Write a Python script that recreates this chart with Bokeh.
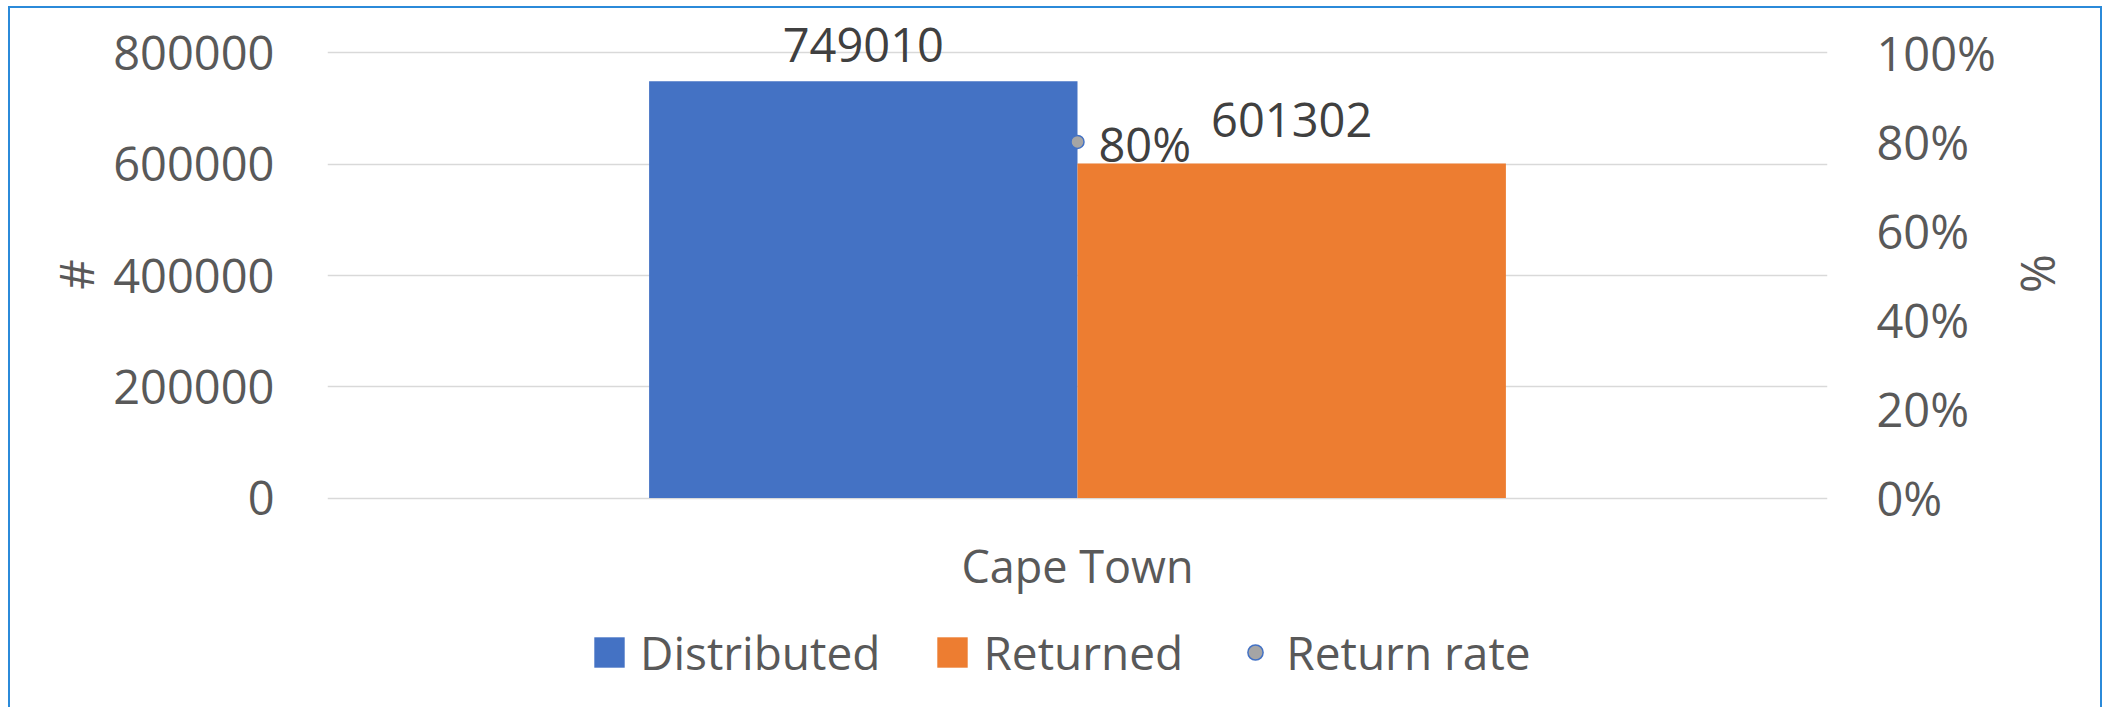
import math
from bokeh.plotting import figure
from bokeh.models import (ColumnDataSource, Range1d, LinearAxis, FixedTicker,
                          Legend, LegendItem, NumeralTickFormatter, FactorRange)
from bokeh.transform import dodge
from bokeh.core.properties import value
from bokeh.embed import file_html
from bokeh.resources import INLINE

# ---- data ----
cities = ["Cape Town"]
distributed = [749010]
returned = [601302]
return_rate = [0.80]
return_rate_labels = ["80%"]
left_ticks = [0, 200000, 400000, 600000, 800000]
right_ticks = [0, 0.2, 0.4, 0.6, 0.8, 1.0]
left_title = "#"
right_title = "%"

# ---- style ----
FONT = "Open Sans"
BLUE = "#4472C4"
ORANGE = "#ED7D31"
GREY_TXT = "#595959"
DARK_TXT = "#404040"
GRID = "#D9D9D9"
EDGE = "#2B8AD9"
NBSP = "\u00a0"

W, H = 2103, 707
FRAME_LEFT, FRAME_RIGHT = 327, 1829
ZERO_PX, TOP_PX = 497.6, 52.4          # pixel rows of the 0 and the top gridline
span = ZERO_PX - TOP_PX
y_start = -(H - ZERO_PX) / span * left_ticks[-1]
y_end = ZERO_PX / span * left_ticks[-1]
pct_start = -(H - ZERO_PX) / span * right_ticks[-1]
pct_end = ZERO_PX / span * right_ticks[-1]

src = ColumnDataSource(dict(city=cities, distributed=distributed, returned=returned,
                            rate=return_rate, rate_label=return_rate_labels,
                            d_label=[str(v) for v in distributed],
                            r_label=[str(v) for v in returned],
                            base=[0] * len(cities)))

p = figure(width=W, height=H, x_range=FactorRange(factors=cities),
           y_range=Range1d(y_start, y_end), output_backend="svg", toolbar_location=None,
           min_border_left=FRAME_LEFT, min_border_right=W - FRAME_RIGHT,
           min_border_top=0, min_border_bottom=0)
p.x_range.range_padding = 0
p.extra_y_ranges = {"pct": Range1d(pct_start, pct_end)}
p.outline_line_color = None
p.background_fill_color = None
p.border_fill_color = None
p.styles = {"box-shadow": ("inset 8px 6px 0 0 #ffffff, inset -1px 0 0 0 #ffffff, "
                           f"inset 10px 8px 0 0 {EDGE}, inset -3px 0 0 0 {EDGE}"),
            "background-color": "#ffffff"}

bw = 0.2856
r_d = p.vbar(x=dodge("city", -bw / 2, range=p.x_range), top="distributed", width=bw,
             source=src, fill_color=BLUE, line_color=None)
r_r = p.vbar(x=dodge("city", bw / 2, range=p.x_range), top="returned", width=bw,
             source=src, fill_color=ORANGE, line_color=None)
r_rate = p.scatter(x="city", y="rate", y_range_name="pct", source=src, size=13,
                   fill_color="#A5A5A5", line_color=BLUE, line_width=1.5)

# data labels
p.text(x=dodge("city", -bw / 2, range=p.x_range), y="distributed", text="d_label",
       source=src, text_align="center", text_baseline="middle", y_offset=-36,
       text_font=value(FONT), text_font_size="47px", text_color=DARK_TXT)
p.text(x=dodge("city", bw / 2, range=p.x_range), y="returned", text="r_label",
       source=src, text_align="center", text_baseline="middle", y_offset=-43,
       text_font=value(FONT), text_font_size="47px", text_color=DARK_TXT)
p.text(x="city", y="rate", y_range_name="pct", text="rate_label", source=src,
       text_align="left", text_baseline="middle", x_offset=21, y_offset=2,
       text_font=value(FONT), text_font_size="47px", text_color=DARK_TXT)
# category label
p.text(x="city", y="base", text="city", source=src, text_align="center",
       text_baseline="middle", y_offset=67, text_font=value(FONT),
       text_font_size="45px", text_color=GREY_TXT)

# axes (titles are padded with non-breaking spaces so that they sit centred
# on the 0..max span of the axis rather than on the full frame height)
p.xaxis.visible = False
la = p.yaxis[0]
la.ticker = FixedTicker(ticks=left_ticks)
la.formatter = NumeralTickFormatter(format="0")
la.axis_label = NBSP * 13 + left_title
la.bounds = (left_ticks[0], left_ticks[-1])

ra = LinearAxis(y_range_name="pct", ticker=FixedTicker(ticks=right_ticks),
                formatter=NumeralTickFormatter(format="0%"),
                axis_label=NBSP * 5 + right_title,
                bounds=(right_ticks[0], right_ticks[-1]))
ra.axis_label_orientation = math.pi / 2
p.add_layout(ra, "right")

for ax, st, lst in [(la, 47, 2), (ra, 43, 38)]:
    ax.axis_line_color = None
    ax.major_tick_line_color = None
    ax.minor_tick_line_color = None
    ax.major_label_standoff = st
    ax.axis_label_standoff = lst
    ax.major_label_text_font = FONT
    ax.major_label_text_font_size = "47px"
    ax.major_label_text_color = GREY_TXT
    ax.axis_label_text_font = FONT
    ax.axis_label_text_font_size = "47px"
    ax.axis_label_text_font_style = "normal"
    ax.axis_label_text_color = GREY_TXT

p.xgrid.grid_line_color = None
p.ygrid.grid_line_color = GRID
p.ygrid.grid_line_width = 1.5
p.ygrid.ticker = FixedTicker(ticks=left_ticks)

legend = Legend(items=[LegendItem(label="Distributed", renderers=[r_d]),
                       LegendItem(label="Returned", renderers=[r_r]),
                       LegendItem(label="Return rate", renderers=[r_rate])],
                orientation="horizontal", location=(263, 24),
                glyph_width=38, glyph_height=38, label_standoff=12, spacing=53,
                padding=0, margin=0, border_line_color=None,
                background_fill_alpha=0,
                label_text_font=FONT, label_text_font_size="46px",
                label_text_color=GREY_TXT)
p.add_layout(legend, "center")

open("out.html", "w").write(file_html(p, INLINE))
